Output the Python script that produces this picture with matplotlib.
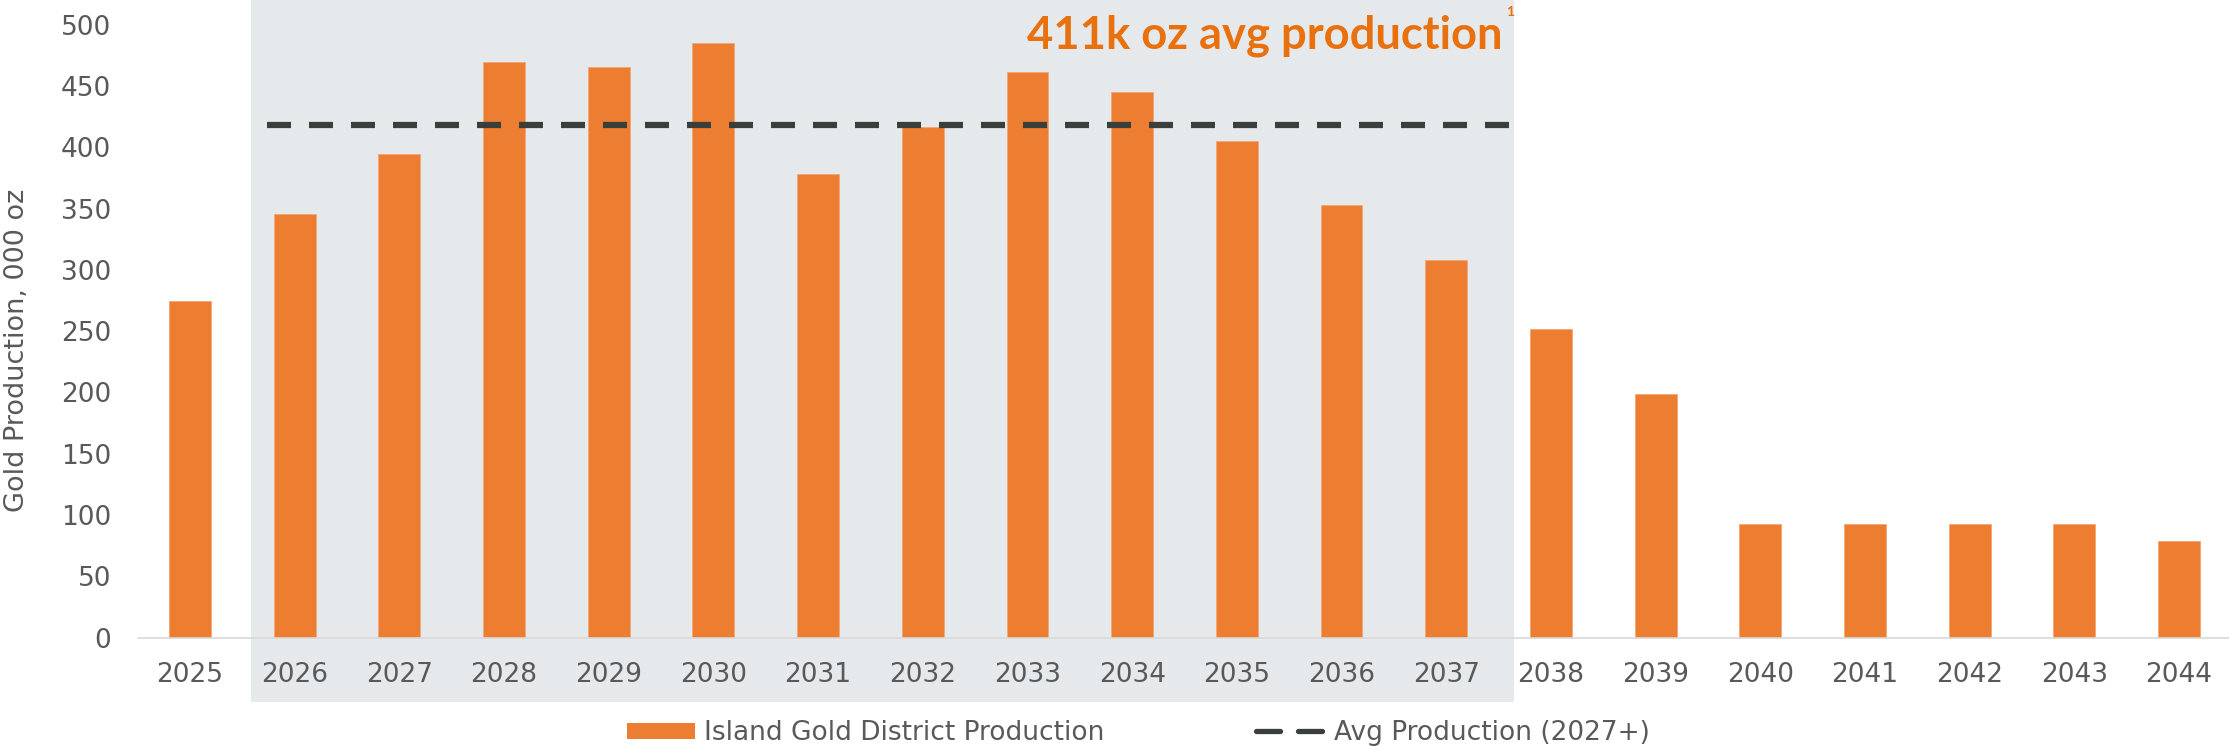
import matplotlib
matplotlib.use("Agg")
import matplotlib.pyplot as plt
from matplotlib.patches import Patch
from matplotlib.lines import Line2D

# ---------------------------------------------------------
# Island Gold District - annual production profile
# ---------------------------------------------------------
years = ["2025", "2026", "2027", "2028", "2029", "2030", "2031", "2032", "2033", "2034",
         "2035", "2036", "2037", "2038", "2039", "2040", "2041", "2042", "2043", "2044"]
production = [275, 346, 395, 470, 466, 485, 378, 417, 462, 445,
              405, 353, 308, 252, 199, 93, 93, 93, 93, 79]
avg_production = 418
avg_label = "411k oz avg production"

bar_label = "Island Gold District Production"
line_label = "Avg Production (2027+)"
y_label = "Gold Production, 000 oz"

BAR_COLOR = "#ED7D31"
ACCENT = "#E8710E"
LINE_COLOR = "#3B3F3C"
SHADE = "#E6E9EC"
TEXT_GRAY = "#595959"

plt.rcParams["font.family"] = ["DejaVu Sans"]
plt.rcParams["lines.scale_dashes"] = False

W, H = 2229, 751
fig = plt.figure(figsize=(W / 100, H / 100), dpi=100)

# axes placed in pixel terms: x slots of ~104.7 px, y 0..500 over 612 px
ax = fig.add_axes([137.6 / W, 1 - 637.5 / H, 2093.8 / W, 612.5 / H])
x = list(range(len(years)))

ax.bar(x, production, width=0.4, color=BAR_COLOR, edgecolor="#F2A774",
       linewidth=0.6, zorder=2)

# shaded window 2026-2037 runs from the top of the figure down past the labels
ax.axvspan(0.584, 12.651, ymin=-0.1047, ymax=1.05, color=SHADE, lw=0,
           clip_on=False, zorder=0)

dash = (24 * 0.72, 18 * 0.72)
ax.plot([0.736, 12.60], [avg_production, avg_production], color=LINE_COLOR,
        lw=4.5, dashes=dash, solid_capstyle="butt", dash_capstyle="butt", zorder=3)

ax.set_xlim(-0.5, len(years) - 0.5)
ax.set_ylim(0, 500)
ax.set_yticks(range(0, 501, 50))
ax.set_xticks(x)
ax.set_xticklabels(years)

for side in ["top", "right", "left"]:
    ax.spines[side].set_visible(False)
ax.spines["bottom"].set_color("#D9D9D9")
ax.spines["bottom"].set_linewidth(1.2)
ax.spines["bottom"].set_zorder(4)
ax.set_facecolor("none")

ax.tick_params(axis="y", length=0, pad=19, labelsize=19, labelcolor=TEXT_GRAY)
ax.tick_params(axis="x", length=0, pad=18, labelsize=19, labelcolor=TEXT_GRAY)

fig.text(16.7 / W, 1 - 350 / H, y_label, rotation=90, ha="center", va="center",
         fontsize=19.5, color=TEXT_GRAY)

# headline with footnote marker
fig.text(1502.7 / W, 1 - 48.3 / H, avg_label, ha="right", va="baseline",
         fontsize=32.7, fontweight="bold", family=["Lato", "DejaVu Sans"], color=ACCENT)
fig.text(1506 / W, 1 - 16 / H, "1", ha="left", va="baseline",
         fontsize=10, fontweight="bold", family=["Lato", "DejaVu Sans"], color=ACCENT)

handles = [
    Patch(facecolor=BAR_COLOR, edgecolor="none", label=bar_label),
    Line2D([0], [0], color=LINE_COLOR, lw=3.8, dashes=dash,
           dash_capstyle="round", label=line_label),
]
fig.legend(handles=handles, loc="center", bbox_to_anchor=(1138 / W, 1 - 733 / H),
           ncol=2, frameon=False, fontsize=19, labelcolor=TEXT_GRAY,
           handlelength=2.58, handleheight=0.56, handletextpad=0.35,
           columnspacing=5.76, borderpad=0)

fig.savefig("out.png", dpi=100, facecolor="white")
print("saved out.png")
